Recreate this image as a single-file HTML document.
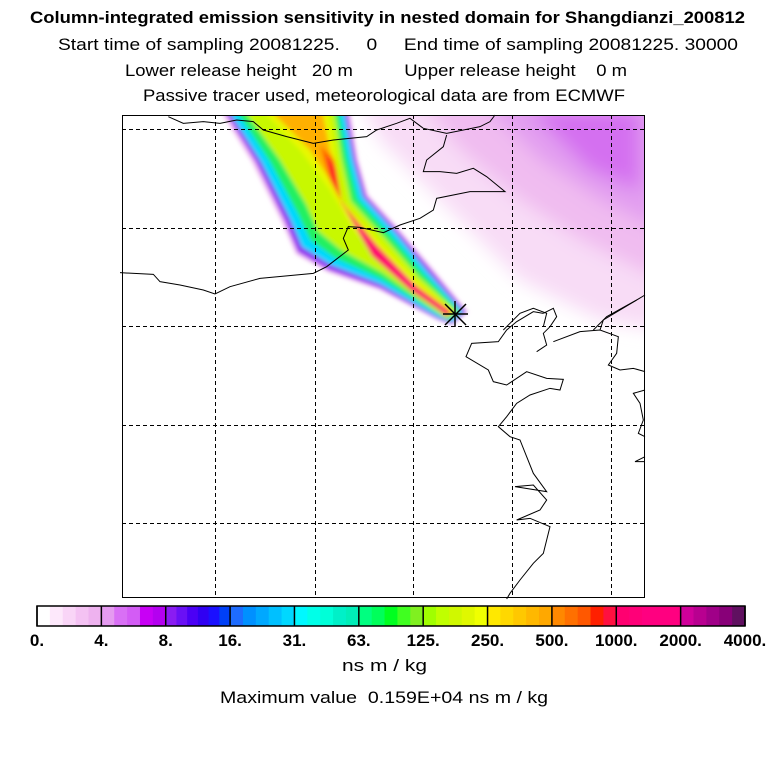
<!DOCTYPE html>
<html><head><meta charset="utf-8"><style>
body{margin:0;background:#fff;width:768px;height:768px;overflow:hidden;font-family:"Liberation Sans",sans-serif}
</style></head><body>
<svg id="map" width="768" height="768" style="position:absolute;left:0;top:0" font-family="Liberation Sans, sans-serif">
<defs>
<clipPath id="cp"><rect x="122" y="115" width="522" height="482"/></clipPath>
<filter id="bl" x="-50%" y="-50%" width="200%" height="200%"><feGaussianBlur stdDeviation="9"/></filter>
<filter id="bs" x="-50%" y="-50%" width="200%" height="200%"><feGaussianBlur stdDeviation="2"/></filter>
</defs>
<text x="30" y="23" font-size="17" font-weight="bold" textLength="715" lengthAdjust="spacingAndGlyphs">Column-integrated emission sensitivity in nested domain for Shangdianzi_200812</text>
<text x="58" y="50" font-size="17" textLength="680" lengthAdjust="spacingAndGlyphs" xml:space="preserve">Start time of sampling 20081225.     0     End time of sampling 20081225. 30000</text>
<text x="125" y="76" font-size="17" textLength="502" lengthAdjust="spacingAndGlyphs" xml:space="preserve">Lower release height   20 m          Upper release height    0 m</text>
<text x="143" y="101" font-size="17" textLength="482" lengthAdjust="spacingAndGlyphs">Passive tracer used, meteorological data are from ECMWF</text>
<g clip-path="url(#cp)" id="field">
<g filter="url(#bl)">
<polygon points="360,100 660,100 660,330 600,320 520,280 470,230 420,180 380,140" fill="#f8dcf6"/>
<polygon points="420,100 660,100 660,280 580,240 520,200 460,150" fill="#f0bcf0"/>
<polygon points="480,100 660,100 660,230 600,200 540,160" fill="#e29ef0"/>
<polygon points="530,110 640,110 640,190 590,170" fill="#d470f0"/>
</g>
<g filter="url(#bs)">
<polygon points="220,110 350,110 358,160 368,195 398,228 432,268 468,312 452,325 438,320 380,290 328,272 296,254 282,222 252,162" fill="#f0b8f0"/>
<polygon points="224,110 347,110 356,160 366,196 396,229 430,269 466,312 452,324 438,319 380,288 329,270 298,252 285,221 256,162" fill="#9020f0"/>
<polygon points="228,110 344,110 353,160 363,197 394,231 427,271 463,312 452,322 438,317 380,284 331,265 302,247 290,219 261,162" fill="#00d8ff"/>
<polygon points="236,110 339,110 348,160 358,199 389,233 423,273 460,312 448,320 381,279 335,258 310,240 298,214 270,162" fill="#20f060"/>
<polygon points="244,110 334,110 342,160 351,201 384,237 419,277 457,312 446,318 383,273 341,250 318,231 306,204 280,160" fill="#c8f800"/>
<polygon points="262,110 328,110 336,160 343,201 378,240 416,280 454,312 446,316 392,270 355,232 330,190 300,150" fill="#e8f800"/>
<polygon points="270,110 322,110 330,150 336,165 330,180 310,150" fill="#ffb000"/>
<polygon points="320,145 334,160 341,201 376,244 414,284 452,312 446,316 400,276 368,246 347,212 330,180" fill="#ff6000"/>
<polygon points="326,155 336,168 342,204 378,248 416,288 450,312 446,315 400,278 372,250 350,216 332,182" fill="#ff2020"/>
<polygon points="340,200 350,215 380,250 420,290 450,312 446,315 410,290 372,256" fill="#ff0070"/>
</g>
</g>
<g id="grid" fill="none" stroke="#000" stroke-width="1" stroke-dasharray="4,3"></g>
<g id="coast" fill="none" stroke="#000" stroke-width="1"></g>
<g stroke="#000" stroke-width="1.5">
<line x1="443" y1="314" x2="468" y2="314"/><line x1="455" y1="301" x2="455" y2="327"/>
<line x1="445" y1="304" x2="466" y2="325"/><line x1="466" y1="304" x2="445" y2="325"/>
</g>
<rect x="122.5" y="115.5" width="522" height="482" fill="none" stroke="#000"/>
<g id="cbar"></g>
<text x="342" y="671" font-size="17" textLength="85" lengthAdjust="spacingAndGlyphs">ns m / kg</text>
<text x="220" y="703" font-size="17" textLength="328" lengthAdjust="spacingAndGlyphs" xml:space="preserve">Maximum value  0.159E+04 ns m / kg</text>
</svg>
<script>
const NS="http://www.w3.org/2000/svg";
const levelLabels=["0.","4.","8.","16.","31.","63.","125.","250.","500.","1000.","2000.","4000."];
const segColors=[
["#ffffff","#fde8fb","#f9d5f7","#f4c2f3","#eeb2ef"],
["#e59bf0","#d970f5","#d35cf5","#c800f5","#b400f0"],
["#8a1cf2","#6a10f5","#4b00f5","#3000f2","#1a10ff","#0040f8"],
["#1e6cff","#0090ff","#00a8ff","#00c0ff","#00d8ff"],
["#00f8ff","#00ffe8","#00ffd8","#00f0c8","#00eeb8"],
["#00ff80","#00ff5a","#00ff20","#40ff20","#80f020"],
["#a0ff00","#c0ff00","#d0f800","#e0f800","#f0ff00"],
["#ffe800","#ffd800","#ffc800","#ffb800","#ffa800"],
["#ff8800","#ff7000","#ff5800","#ff2000","#ff1040"],
["#ff0070","#ff0078","#ff0080","#ff0080","#ff0080"],
["#d0009a","#b80090","#a00088","#880078","#601060"]];
const gridX=[215,315,413,512,611], gridY=[129,228,326,425,523];
function mk(t,a,p){const e=document.createElementNS(NS,t);for(const k in a)e.setAttribute(k,a[k]);p.appendChild(e);return e;}
const g=document.getElementById('grid');
gridX.forEach(x=>{const l=mk('line',{x1:x+.5,y1:115,x2:x+.5,y2:597},g);

});
gridY.forEach(y=>{const l=mk('line',{x1:122,y1:y+.5,x2:644,y2:y+.5},g);

});
const cb=document.getElementById('cbar');
const x0=37,x1=745,y0=606,h=20,n=segColors.length,sw=(x1-x0)/n;
segColors.forEach((cols,i)=>{const w=sw/cols.length;
cols.forEach((c,j)=>{const r=mk('rect',{x:x0+i*sw+j*w,y:y0,width:w+0.6,height:h,fill:c},cb);

});});
for(let i=0;i<=n;i++){const l=mk('line',{x1:x0+i*sw,y1:y0,x2:x0+i*sw,y2:y0+h,stroke:'#000','stroke-width':1.5},cb);

}
mk('rect',{x:x0,y:y0,width:x1-x0,height:h,fill:'none',stroke:'#000','stroke-width':1.5},cb);
levelLabels.forEach((s,i)=>{const t=mk('text',{x:x0+i*sw,y:646,'text-anchor':'middle','font-size':17,'font-weight':'bold'},cb);t.textContent=s;

});
const c=document.getElementById('coast');
function line(pts,ox,oy){const p=mk('polyline',{points:pts.map(q=>(q[0]/3+ox)+','+(q[1]/3+oy)).join(' ')},c);

}
line([[0,488],[100,493],[120,515],[180,525],[250,540],[285,552],[330,530],[420,505],[580,490],[620,470],[685,420],[670,385],[685,350],[720,352],[790,368],[840,345],[900,325],[940,300],[950,265],[1050,245],[1155,245],[1100,200],[1060,175],[1010,190],[960,185],[910,185],[920,150],[970,110],[980,75]],120,110);
line([[145,20],[190,40],[250,35],[300,40],[350,30],[400,35],[430,60],[500,80],[580,100],[640,90],[740,80],[770,60],[830,40],[870,25],[910,55],[980,70],[1080,50],[1110,35],[1125,15]],120,110);
line([[1150,660],[1200,610],[1240,595],[1280,610],[1270,650]],120,110);
line([[1420,660],[1460,620],[1550,570]],120,110);
line([[430,100],[460,85],[470,110],[450,140],[430,160],[440,195],[410,215]],400,280);
line([[460,185],[540,155],[600,150],[655,170],[650,220],[625,255],[660,270],[700,265],[735,275]],400,280);
line([[600,150],[610,120],[735,45]],400,280);
line([[430,100],[400,95],[350,125],[320,150],[295,185],[215,190],[198,230],[265,270],[280,305],[320,315],[380,275],[440,295],[490,298],[480,330],[450,325],[390,345],[350,370],[320,410],[295,440],[330,470],[360,480],[380,530],[400,580],[440,635],[345,620],[400,615],[440,660],[420,690],[350,720],[390,715],[450,740],[440,780],[430,820],[400,850],[360,900],[330,940],[320,957]],400,280);
line([[735,330],[700,340],[720,370],[730,420],[715,460],[735,470]],400,280);
line([[735,530],[705,545],[735,545]],400,280);
</script>
</body></html>
